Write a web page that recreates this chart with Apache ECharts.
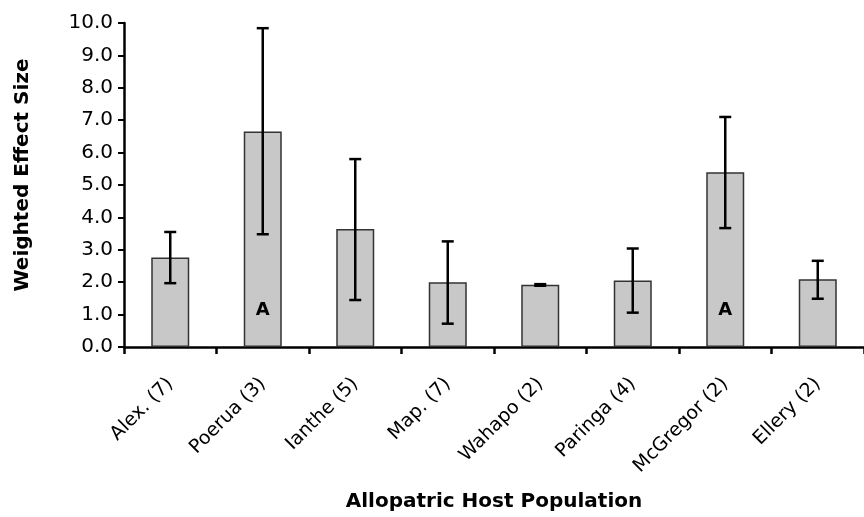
<!DOCTYPE html>
<html>
<head>
<meta charset="utf-8">
<script src="https://cdn.jsdelivr.net/npm/echarts@6/dist/echarts.min.js"></script>
<style>html,body{margin:0;padding:0;background:#fff}#c{width:864px;height:517px}</style>
</head>
<body>
<div id="c"></div>
<script>
var categories = ['Alex. (7)', 'Poerua (3)', 'Ianthe (5)', 'Map. (7)', 'Wahapo (2)', 'Paringa (4)', 'McGregor (2)', 'Ellery (2)'];
var means = [2.76, 6.65, 3.64, 2.00, 1.92, 2.05, 5.39, 2.09];
var errLow = [1.97, 3.48, 1.45, 0.72, 1.89, 1.06, 3.67, 1.49];
var errHigh = [3.55, 9.84, 5.80, 3.26, 1.94, 3.04, 7.10, 2.66];
var annotations = ['', 'A', '', '', '', '', 'A', ''];
var yTicks = [0, 1, 2, 3, 4, 5, 6, 7, 8, 9, 10];

var font = 'Verdana, DejaVu Sans';
var chart = echarts.init(document.getElementById('c'));
chart.setOption({
  animation: false,
  backgroundColor: '#fff',
  grid: {left: 124, right: -6, top: 23, bottom: 168, containLabel: false},
  xAxis: {
    type: 'category',
    data: categories,
    name: 'Allopatric Host Population',
    nameLocation: 'middle',
    nameGap: 145,
    nameTextStyle: {fontFamily: font, fontWeight: 'bold', fontSize: 20, color: '#000'},
    axisLine: {lineStyle: {color: '#000', width: 2.5}},
    axisTick: {show: true, inside: false, length: 7, lineStyle: {color: '#000', width: 2.5}},
    axisLabel: {rotate: 45, fontFamily: font, fontSize: 19, color: '#000', margin: 34, interval: 0}
  },
  yAxis: {
    type: 'value',
    min: yTicks[0],
    max: yTicks[yTicks.length - 1],
    interval: 1,
    name: 'Weighted Effect Size',
    nameLocation: 'middle',
    nameGap: 91,
    nameTextStyle: {fontFamily: font, fontWeight: 'bold', fontSize: 20, color: '#000', padding: [0, 0, 0, 20]},
    axisLine: {show: true, lineStyle: {color: '#000', width: 2.5}},
    axisTick: {show: true, inside: false, length: 6, lineStyle: {color: '#000', width: 2}},
    splitLine: {show: false},
    axisLabel: {fontFamily: font, fontSize: 20, color: '#000', margin: 11, formatter: function (v) { return v.toFixed(1); }}
  },
  series: [
    {
      type: 'bar',
      barWidth: 38,
      data: means.map(function (v, i) {
        return {
          value: v,
          label: {
            show: annotations[i] !== '',
            formatter: annotations[i],
            position: 'insideBottom',
            distance: 28,
            fontFamily: font, fontWeight: 'bold', fontSize: 18, color: '#000'
          }
        };
      }),
      itemStyle: {color: '#c8c8c8', borderColor: '#333', borderWidth: 1.5},
      z: 2
    },
    {
      type: 'custom',
      z: 5,
      data: categories.map(function (c, i) { return [i, errLow[i], errHigh[i]]; }),
      renderItem: function (params, api) {
        var lo = api.coord([api.value(0), api.value(1)]);
        var hi = api.coord([api.value(0), api.value(2)]);
        var x = lo[0];
        var hw = 6;
        var st = {stroke: '#000', lineWidth: 2.5};
        return {
          type: 'group',
          children: [
            {type: 'line', shape: {x1: x, y1: lo[1], x2: x, y2: hi[1]}, style: st},
            {type: 'line', shape: {x1: x - hw, y1: lo[1], x2: x + hw, y2: lo[1]}, style: st},
            {type: 'line', shape: {x1: x - hw, y1: hi[1], x2: x + hw, y2: hi[1]}, style: st}
          ]
        };
      }
    }
  ]
});
</script>
</body>
</html>
